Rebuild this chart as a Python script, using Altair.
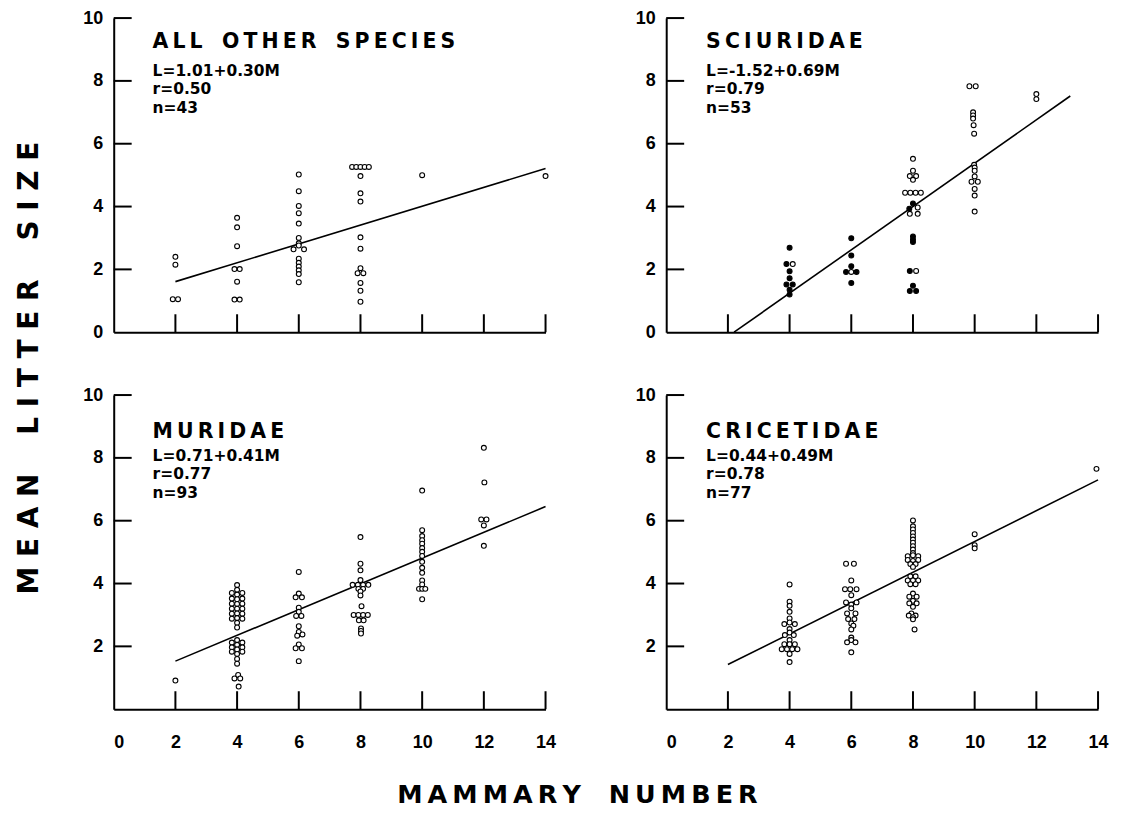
import altair as alt
import pandas as pd

# ---------------- data ----------------
X_LABEL_VALUES = [0, 2, 4, 6, 8, 10, 12, 14]
X_TICK_VALUES = [2, 4, 6, 8, 10, 12, 14]
Y_TICK_VALUES = [2, 4, 6, 8, 10]
Y_LABELS_TOP = [0, 2, 4, 6, 8, 10]
Y_LABELS_BOTTOM = [2, 4, 6, 8, 10]

# ALL OTHER SPECIES
a_x = [2, 2, 2, 2,
       4, 4, 4, 4, 4, 4, 4, 4,
       6, 6, 6, 6, 6, 6, 6, 6, 6, 6, 6, 6, 6, 6, 6, 6,
       8, 8, 8, 8, 8, 8, 8, 8, 8, 8, 8, 8, 8, 8, 8, 8,
       10, 14]
a_y = [2.40, 2.15, 1.05, 1.05,
       3.64, 3.34, 2.74, 2.01, 2.01, 1.61, 1.04, 1.04,
       5.02, 4.49, 4.02, 3.79, 3.46, 3.00, 2.83, 2.76, 2.64, 2.64, 2.34, 2.21, 2.09, 1.97, 1.85, 1.59,
       5.26, 5.26, 5.26, 5.26, 5.26, 4.97, 4.42, 4.16, 3.02, 2.66, 2.04, 1.88, 1.88, 1.57, 1.32, 0.97,
       5.00, 4.97]
a_dx = [0, 0, -0.5, 0.5,
        0, 0, 0, -0.5, 0.5, 0, -0.5, 0.5,
        0, 0, 0, 0, 0, 0, 0, 0, -1, 1, 0, 0, 0, 0, 0, 0,
        -1.6, -0.8, 0, 0.8, 1.6, 0, 0, 0, 0, 0, 0, -0.55, 0.55, 0, 0, 0,
        0, 0]
a_f = [0] * len(a_x)
a_line_x = [2, 14]
a_line_y = [1.61, 5.21]

# SCIURIDAE  (f = 1: filled symbol)
b_x = [4, 4, 4, 4, 4, 4, 4, 4, 4,
       6, 6, 6, 6, 6, 6, 6,
       8, 8, 8, 8, 8, 8, 8, 8, 8, 8, 8, 8, 8, 8, 8, 8, 8, 8, 8, 8, 8, 8,
       10, 10, 10, 10, 10, 10, 10, 10, 10, 10, 10, 10, 10, 10, 10, 10,
       12, 12]
b_y = [2.69, 2.17, 2.17, 1.94, 1.72, 1.52, 1.52, 1.35, 1.20,
       2.99, 2.44, 2.10, 1.92, 1.92, 1.92, 1.57,
       5.52, 5.14, 4.97, 4.97, 4.85, 4.44, 4.44, 4.44, 4.44, 4.10, 3.93, 3.97, 3.77, 3.77,
       3.05, 2.95, 2.87, 1.95, 1.95, 1.48, 1.31, 1.31,
       7.83, 7.83, 7.00, 6.90, 6.80, 6.59, 6.32, 5.33, 5.24, 5.14, 4.96, 4.79, 4.79, 4.56, 4.35, 3.84,
       7.58, 7.42]
b_dx = [0, -0.6, 0.6, 0, 0, -0.6, 0.6, 0, 0,
        0, 0, 0, -1, 0, 1, 0,
        0, 0, -0.6, 0.6, 0, -1.5, -0.5, 0.5, 1.5, 0, -0.7, 0.9, 0.9, -0.6,
        0, 0, 0, -0.6, 0.6, 0, -0.6, 0.6,
        -1.0, 0.2, -0.3, -0.3, -0.3, -0.2, -0.1, -0.1, 0, 0, 0, -0.6, 0.6, 0, 0, 0,
        0, 0]
b_f = [1, 1, 0, 1, 1, 1, 1, 1, 1,
       1, 1, 1, 1, 0, 1, 1,
       0, 0, 0, 0, 0, 0, 0, 0, 0, 1, 1, 0, 0, 0,
       1, 1, 1, 1, 0, 1, 1, 1,
       0, 0, 0, 0, 0, 0, 0, 0, 0, 0, 0, 0, 0, 0, 0, 0,
       0, 0]
b_line_x = [2.2, 13.1]
b_line_y = [0.0, 7.52]

# MURIDAE
c_x = ([2]
       + [4] * 10 + [4] * 6 + [4] * 6 + [4] * 6 + [4] * 3 + [4] * 3 + [4] * 4
       + [6] * 16
       + [8] * 22
       + [10] * 17
       + [12] * 6)
c_y = ([0.91]
       + [3.95, 3.80, 3.65, 3.50, 3.35, 3.20, 3.05, 2.90, 2.75, 2.60]
       + [3.70, 3.52, 3.36, 3.20, 3.04, 2.88]
       + [3.70, 3.52, 3.36, 3.20, 3.04, 2.88]
       + [2.20, 2.05, 1.90, 1.76, 1.60, 1.45]
       + [2.12, 1.97, 1.83]
       + [2.12, 1.97, 1.83]
       + [1.09, 0.98, 0.98, 0.72]
       + [4.37, 3.68, 3.56, 3.56, 3.23, 3.10, 2.97, 2.97, 2.64, 2.46, 2.38, 2.34, 2.06, 1.94, 1.94, 1.53]
       + [5.48, 4.63, 4.42, 4.11, 3.96, 3.96, 3.96, 3.96, 3.83, 3.83, 3.75, 3.62, 3.28,
          3.00, 3.00, 3.00, 3.00, 2.83, 2.83, 2.57, 2.49, 2.41]
       + [6.96, 5.70, 5.51, 5.38, 5.27, 5.13, 5.01, 4.88, 4.69, 4.50, 4.34, 4.10, 3.97, 3.83, 3.83, 3.83, 3.50]
       + [8.32, 7.22, 6.04, 6.04, 5.85, 5.20])
c_dx = ([0]
        + [0] * 10 + [-1] * 6 + [1] * 6 + [0] * 6 + [-1] * 3 + [1] * 3 + [0.2, -0.5, 0.6, 0.3]
        + [0, 0, -0.6, 0.6, 0, 0, -0.5, 0.5, 0, 0, 0.7, -0.3, 0, -0.6, 0.6, 0]
        + [0, 0, 0, 0, -1.5, -0.5, 0.5, 1.5, -0.4, 0.5, 0, 0, 0.2,
           -1.3, -0.4, 0.5, 1.4, -0.3, 0.6, 0.1, 0.1, 0.1]
        + [0] * 13 + [-0.6, 0, 0.6, 0]
        + [0, 0.1, -0.5, 0.5, 0, 0])
c_f = [0] * len(c_x)
c_line_x = [2, 14]
c_line_y = [1.53, 6.45]

# CRICETIDAE
d_x = [4] * 22 + [6] * 23 + [8] * 39 + [10] * 3 + [14]
d_y = ([3.97, 3.42, 3.29, 3.10, 2.89, 2.71, 2.76, 2.71, 2.55, 2.44, 2.36, 2.36, 2.20,
        2.07, 2.07, 2.07, 1.91, 1.91, 1.91, 1.91, 1.76, 1.50]
       + [4.63, 4.63, 4.10, 3.82, 3.82, 3.82, 3.63, 3.40, 3.40, 3.33, 3.21, 3.05, 3.05,
          2.87, 2.87, 2.73, 2.66, 2.54, 2.28, 2.20, 2.13, 2.13, 1.81]
       + [6.01, 5.82, 5.72, 5.61, 5.50, 5.40, 5.30, 5.19, 5.08, 4.97,
          4.87, 4.90, 4.87, 4.75, 4.72, 4.75, 4.62, 4.62, 4.53,
          4.23, 4.23, 4.10, 4.10, 4.10, 3.98, 3.98,
          3.68, 3.58, 3.58, 3.45, 3.37, 3.37, 3.26,
          3.05, 2.98, 2.98, 2.93, 2.86, 2.54]
       + [5.57, 5.22, 5.12]
       + [7.65])
d_dx = ([0, 0, 0, 0, 0, -1, 0, 1, 0, 0, -0.9, 0.8, 0,
         -1, 0, 1, -1.5, -0.5, 0.5, 1.5, 0, 0]
        + [-1, 0.5, 0, -1.2, -0.2, 1.0, 0, -1, 1, 0, 0, -0.8, 0.8,
           -0.6, 0.6, 0, 0.4, 0, 0, 0, -0.8, 0.8, 0]
        + [0, 0, 0, 0, 0, 0, 0, 0, 0, 0,
           -1, 0, 1, -1, 0, 1, -0.5, 0.5, 0,
           -0.5, 0.5, -1, 0, 1, -0.5, 0.5,
           0, -0.7, 0.7, 0, -0.7, 0.7, 0,
           -0.3, -0.8, 0.5, 0, 0, 0.3]
        + [0, 0, 0]
        + [-0.3])
d_f = [0] * len(d_x)
d_line_x = [2, 14]
d_line_y = [1.42, 7.30]

TITLES = ["ALL OTHER SPECIES", "SCIURIDAE", "MURIDAE", "CRICETIDAE"]
EQUATIONS = [["L=1.01+0.30M", "r=0.50", "n=43"],
             ["L=-1.52+0.69M", "r=0.79", "n=53"],
             ["L=0.71+0.41M", "r=0.77", "n=93"],
             ["L=0.44+0.49M", "r=0.78", "n=77"]]
X_TITLE = "MAMMARY NUMBER"
Y_TITLE = "MEAN LITTER SIZE"

# ---------------- styling ----------------
JIT = 0.17          # horizontal spacing of stacked symbols, in x units
W, H = 433, 315
TXT_FONT = "DejaVu Sans"
LBL_FONT = "Liberation Sans"
THIN = "\u2009"
NB = "\u00a0"
NO_FRAME = alt.ViewBackground(stroke="transparent", strokeWidth=0, strokeOpacity=0)


def spaced(text, sep, wordsep):
    return wordsep.join(sep.join(list(w)) for w in text.split(" "))


XS = alt.Scale(domain=[0, 14], nice=False, zero=False)
YS = alt.Scale(domain=[0, 10], nice=False, zero=False)


def axes(bottom):
    xaxis = alt.Axis(
        values=X_LABEL_VALUES, labels=bottom, ticks=False, tickSize=0, grid=False,
        domain=True, domainColor="black", domainWidth=2, title=None,
        labelFont=LBL_FONT, labelFontSize=18, labelFontWeight="bold", labelColor="black",
        labelPadding=24, labelFlush=False,
        labelAlign={"condition": {"test": "datum.value === 0", "value": "left"}, "value": "center"},
    )
    yaxis = alt.Axis(
        values=Y_LABELS_BOTTOM if bottom else Y_LABELS_TOP, ticks=False, tickSize=0, grid=False,
        domain=True, domainColor="black", domainWidth=2, title=None,
        labelFont=LBL_FONT, labelFontSize=18, labelFontWeight="bold", labelColor="black",
        labelPadding=11, labelFlush=False,
    )
    return xaxis, yaxis


def panel(xs, ys, dxs, fs, lx, ly, title, eq, bottom, text_x, title_y, eq_y, extra=None):
    xaxis, yaxis = axes(bottom)
    pts = pd.DataFrame({"m": xs, "L": ys, "dx": dxs, "f": fs})
    pts["m"] = pts["m"] + pts["dx"] * JIT
    line = alt.Chart(pd.DataFrame({"m": lx, "L": ly})).mark_line(
        color="black", strokeWidth=1.6
    ).encode(
        x=alt.X("m:Q", scale=XS, axis=xaxis),
        y=alt.Y("L:Q", scale=YS, axis=yaxis),
    )
    pts_layer = alt.Chart(pts).mark_point(
        shape="circle", filled=True, stroke="black", strokeWidth=1.1, size=24, opacity=1
    ).encode(
        x=alt.X("m:Q", scale=XS, axis=xaxis),
        y=alt.Y("L:Q", scale=YS, axis=yaxis),
        fill=alt.condition("datum.f == 1", alt.value("black"), alt.value("white")),
    )
    xt = alt.Chart(pd.DataFrame({"m": X_TICK_VALUES})).mark_rule(
        color="black", strokeWidth=2
    ).encode(x=alt.X("m:Q", scale=XS, axis=xaxis), y=alt.value(H), y2=alt.value(H - 18))
    yt = alt.Chart(pd.DataFrame({"L": Y_TICK_VALUES})).mark_rule(
        color="black", strokeWidth=2
    ).encode(y=alt.Y("L:Q", scale=YS, axis=yaxis), x=alt.value(0), x2=alt.value(18))
    ttl = alt.Chart(pd.DataFrame({"t": [spaced(title, THIN, THIN + " " + THIN + THIN)]})).mark_text(
        align="left", baseline="alphabetic", font=TXT_FONT, fontWeight="bold",
        fontSize=20.5, color="black"
    ).encode(text="t:N", x=alt.value(text_x), y=alt.value(title_y))
    eqt = alt.Chart(pd.DataFrame({"t": ["\n".join(eq)]})).mark_text(
        align="left", baseline="alphabetic", font=TXT_FONT, fontWeight="bold",
        fontSize=15.5, color="black", lineBreak="\n", lineHeight=18.5
    ).encode(text="t:N", x=alt.value(text_x), y=alt.value(eq_y))
    layers = [line, xt, yt, pts_layer, ttl, eqt]
    if extra is not None:
        layers.append(extra)
    return alt.layer(*layers).properties(width=W, height=H, view=NO_FRAME)


ylab = alt.Chart(pd.DataFrame({"t": [spaced(Y_TITLE, NB, NB * 4)]})).mark_text(
    align="center", baseline="middle", font=TXT_FONT, fontWeight="bold",
    fontSize=28, color="black", angle=270
).encode(text="t:N", x=alt.value(-84), y=alt.value(351))

xlab = alt.Chart(pd.DataFrame({"t": [spaced(X_TITLE, THIN, THIN + NB + NB + THIN)]})).mark_text(
    align="center", baseline="alphabetic", font=TXT_FONT, fontWeight="bold",
    fontSize=25.5, color="black"
).encode(text="t:N", x=alt.value(465), y=alt.value(409))

pA = panel(a_x, a_y, a_dx, a_f, a_line_x, a_line_y, TITLES[0], EQUATIONS[0], False, 39, 30, 58, ylab)
pB = panel(b_x, b_y, b_dx, b_f, b_line_x, b_line_y, TITLES[1], EQUATIONS[1], False, 40, 30, 58)
pC = panel(c_x, c_y, c_dx, c_f, c_line_x, c_line_y, TITLES[2], EQUATIONS[2], True, 39, 43, 66, xlab)
pD = panel(d_x, d_y, d_dx, d_f, d_line_x, d_line_y, TITLES[3], EQUATIONS[3], True, 40, 43, 66)

chart = alt.concat(
    pA, pB, pC, pD, columns=2, spacing={"row": 63, "column": 121}, bounds="flush"
).properties(
    padding={"left": 8, "top": 0, "right": 5, "bottom": 5}
).configure_view(stroke="transparent", strokeWidth=0, strokeOpacity=0).configure(background="white")

chart.save("out.html", embed_options={"renderer": "svg", "actions": False})
